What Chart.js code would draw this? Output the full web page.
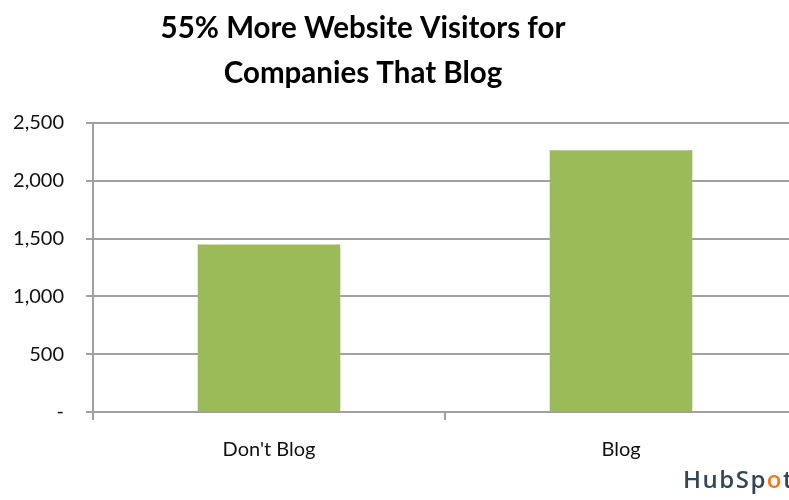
<!DOCTYPE html>
<html>
<head>
<meta charset="utf-8">
<script src="https://cdn.jsdelivr.net/npm/chart.js@4"></script>
<style>
  html, body { margin: 0; padding: 0; background: #fff; overflow: hidden; }
  #wrap { position: relative; width: 797px; height: 500px; }
  #logo {
    position: absolute; left: 683px; top: 462px;
    font-family: "Open Sans", sans-serif; font-weight: 600; font-size: 24px;
    color: #33475b; letter-spacing: 1.5px; white-space: nowrap;
  }
  #logo span { color: #f57722; }
</style>
</head>
<body>
<div id="wrap">
  <canvas id="grafico" width="797" height="500"></canvas>
  <div id="logo">HubSp<span>o</span>t</div>
</div>
<script>
const categorias = ["Don't Blog", 'Blog']
const visitantes = [1450, 2265]
const titulo = ['55% More Website Visitors for', 'Companies That Blog']

// titulo desenhado a mao pra ficar centralizado igual ao original
const tituloPlugin = {
    id: 'tituloPlugin',
    afterDraw(chart) {
        const ctx = chart.ctx
        ctx.save()
        ctx.fillStyle = '#000'
        ctx.font = 'bold 29.5px Lato'
        ctx.textAlign = 'center'
        ctx.textBaseline = 'middle'
        ctx.fillText(titulo[0], 363, 28)
        ctx.fillText(titulo[1], 363, 73)
        ctx.restore()
    }
}

const ctx = document.getElementById('grafico')

new Chart(ctx, {
    type: 'bar',
    data: {
        labels: categorias,
        datasets: [{
            data: visitantes,
            backgroundColor: '#9bbb59',
            borderWidth: 0,
            barPercentage: 0.81,
            categoryPercentage: 0.5
        }]
    },
    options: {
        responsive: false,
        animation: false,
        layout: { padding: { top: 123, left: 0, right: 0, bottom: 0 } },
        plugins: {
            legend: { display: false },
            tooltip: { enabled: false }
        },
        scales: {
            x: {
                grid: {
                    offset: true,
                    drawOnChartArea: false,
                    color: '#a0a0a0',
                    lineWidth: 2,
                    tickLength: 8,
                    tickColor: '#a0a0a0'
                },
                border: { color: '#a0a0a0', width: 2 },
                ticks: {
                    color: '#111',
                    font: { family: 'Lato', size: 20 },
                    padding: 18
                },
                afterFit(scale) { scale.height = 88 }
            },
            y: {
                min: 0,
                max: 2500,
                grid: {
                    color: '#a0a0a0',
                    lineWidth: 2,
                    tickLength: 7,
                    tickColor: '#a0a0a0'
                },
                border: { color: '#a0a0a0', width: 2 },
                ticks: {
                    stepSize: 500,
                    color: '#111',
                    font: { family: 'Lato', size: 20 },
                    padding: 22,
                    callback: v => v === 0 ? '-' : v.toLocaleString('en-US')
                },
                afterFit(scale) { scale.width = 93 }
            }
        }
    },
    plugins: [tituloPlugin]
})
</script>
</body>
</html>
